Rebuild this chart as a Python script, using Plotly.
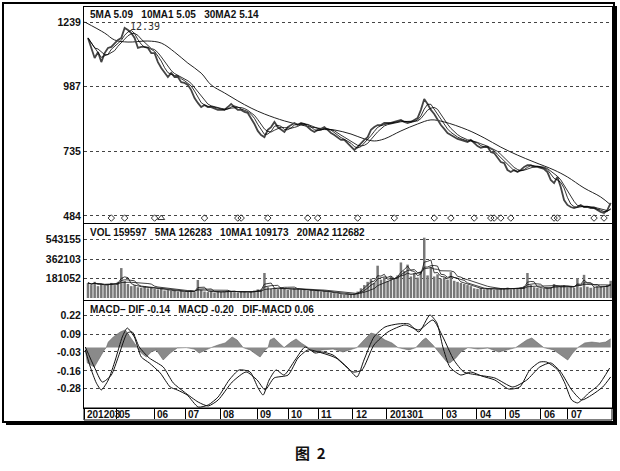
import plotly.graph_objects as go
import pandas as pd

# ---------------- data ----------------
# one bar = about two trading days, index 0 .. 157
close = [1177, 1138, 1099, 1122, 1083, 1118, 1138, 1142, 1157, 1169,
         1177, 1216, 1208, 1196, 1177, 1138, 1142, 1142, 1138, 1118,
         1118, 1083, 1060, 1041, 1025, 1041, 1025, 1025, 1005, 1002,
         994, 974, 943, 924, 908, 916, 908, 908, 904, 897,
         897, 897, 908, 920, 908, 897, 897, 889, 885, 865,
         842, 815, 799, 791, 819, 830, 850, 830, 819, 811,
         830, 838, 846, 838, 846, 842, 830, 819, 811, 819,
         823, 830, 819, 807, 799, 788, 780, 780, 768, 753,
         741, 753, 768, 780, 791, 819, 830, 838, 838, 846,
         846, 846, 850, 854, 858, 850, 846, 850, 858, 865,
         897, 939, 920, 897, 881, 858, 838, 823, 807, 799,
         791, 784, 780, 776, 772, 780, 768, 756, 749, 753,
         753, 733, 729, 710, 694, 690, 663, 655, 663, 655,
         663, 675, 682, 682, 675, 675, 671, 667, 655, 624,
         612, 636, 597, 546, 527, 519, 515, 519, 527, 519,
         519, 515, 515, 507, 500, 496, 507, 535]

ma30_idx = [-1, 5, 8, 12, 18, 22, 26, 30, 34, 37, 41, 45, 49, 53, 59, 64, 69, 74,
            79, 83, 86, 89, 94, 99, 103, 107, 114, 119, 124, 129, 134, 140, 144,
            149, 154, 157]
ma30 = [1239, 1196, 1169, 1161, 1165, 1157, 1122, 1079, 1040, 994, 963, 932, 904,
        881, 854, 838, 826, 819, 803, 784, 776, 784, 815, 842, 858, 850, 819, 788,
        752, 721, 694, 663, 636, 593, 558, 527]

volume = [140000, 120000, 150000, 110000, 130000, 115000, 125000, 140000, 120000, 150000,
          278000, 160000, 130000, 110000, 120000, 100000, 95000, 110000, 90000, 100000,
          85000, 80000, 90000, 70000, 75000, 65000, 70000, 60000, 65000, 55000,
          60000, 70000, 55000, 167000, 75000, 60000, 55000, 65000, 50000, 60000,
          55000, 60000, 70000, 65000, 55000, 50000, 60000, 55000, 50000, 60000,
          70000, 80000, 75000, 232000, 100000, 85000, 90000, 80000, 95000, 85000,
          75000, 80000, 90000, 85000, 75000, 80000, 70000, 75000, 65000, 70000,
          60000, 65000, 55000, 50000, 45000, 40000, 35000, 30000, 30000, 35000,
          40000, 60000, 90000, 120000, 150000, 180000, 140000, 300000, 170000, 190000,
          160000, 200000, 180000, 210000, 330000, 250000, 310000, 200000, 230000, 190000,
          250000, 560000, 210000, 290000, 200000, 220000, 180000, 190000, 170000, 240000,
          160000, 150000, 140000, 130000, 120000, 110000, 90000, 85000, 95000, 80000,
          90000, 85000, 75000, 80000, 90000, 85000, 95000, 80000, 85000, 90000,
          100000, 110000, 232000, 120000, 100000, 95000, 90000, 85000, 95000, 100000,
          130000, 110000, 105000, 120000, 100000, 110000, 95000, 186000, 100000, 215000,
          105000, 95000, 100000, 110000, 105000, 100000, 120000, 160000]

dif_idx = [-0.8, 0.7, 2.5, 4, 6.1, 8.2, 10.3, 11.8, 13.9, 16, 18.4, 21.7, 24.7, 26.8,
           29.8, 33.1, 36.1, 39.1, 42.4, 45.4, 48.7, 51.1, 52.6, 54.4, 56.5, 58.9,
           62.2, 65.2, 68.2, 70.3, 73.6, 77.8, 80.8, 82.9, 85.9, 89.2, 93.1, 96.4,
           99.4, 102.7, 104.8, 106.6, 108.7, 112, 115, 118.3, 122.2, 126.4, 129.7,
           132.7, 135.7, 137.8, 141.1, 143.2, 145.3, 147.1, 150.4, 153.4, 156.7]
dif = [-0.016, -0.133, -0.242, -0.290, -0.222, -0.085, 0.073, 0.134, 0.073, -0.064,
       -0.105, -0.174, -0.270, -0.290, -0.325, -0.407, -0.393, -0.338, -0.222, -0.153,
       -0.167, -0.277, -0.325, -0.222, -0.153, -0.188, -0.085, 0.004, -0.037, -0.030,
       -0.051, -0.133, -0.201, -0.085, 0.073, 0.141, 0.162, 0.162, 0.107, 0.223,
       0.169, 0.004, -0.133, -0.188, -0.167, -0.195, -0.222, -0.284, -0.270, -0.153,
       -0.099, -0.099, -0.153, -0.242, -0.359, -0.379, -0.311, -0.256, -0.140]

dea_idx = [-0.8, 1.9, 4.3, 7, 9.1, 11.8, 13.3, 15.4, 18.4, 22.6, 25.6, 28.9, 33.1,
           36.1, 39.1, 43.3, 47.5, 50.8, 53.2, 55.9, 60.1, 63.1, 66.1, 70.3, 74.5,
           79.6, 82.3, 85.9, 90.1, 95.2, 99.4, 103.6, 106.6, 109.9, 112.9, 117.1,
           122.2, 127.6, 131.8, 135.7, 139, 142, 145.3, 148.3, 151.3, 154.6, 157]
dea = [0.004, -0.133, -0.236, -0.188, -0.064, 0.100, 0.107, 0.004, -0.071, -0.133,
       -0.242, -0.304, -0.373, -0.400, -0.359, -0.236, -0.167, -0.222, -0.290, -0.208,
       -0.188, -0.071, -0.016, -0.037, -0.071, -0.167, -0.153, 0.018, 0.107, 0.155,
       0.121, 0.189, 0.073, -0.085, -0.167, -0.188, -0.208, -0.270, -0.222, -0.133,
       -0.105, -0.167, -0.290, -0.359, -0.325, -0.270, -0.201]

hist_idx = [-0.8, -0.2, 1.9, 3.4, 4.9, 5.5, 6.1, 7.6, 9.7, 11.2, 12.7, 14.2, 14.8,
            16, 17.5, 19, 20.5, 22.6, 24.7, 26.8, 29.5, 31.9, 33.4, 35.2, 37, 39.1,
            41.2, 43.3, 44.8, 46.6, 48.7, 50.8, 51.7, 53.2, 54.1, 54.7, 55.9, 57.4,
            58.9, 61, 62.5, 64, 66.1, 68.2, 70.3, 73.6, 76.6, 78.7, 80.8, 82.9, 85,
            87.1, 89.2, 91.3, 93.1, 96.4, 98.5, 100.6, 101.5, 103.6, 105.7, 107.8,
            108.7, 110.5, 112, 114.1, 117.1, 120.1, 123.4, 126.1, 128.5, 131.8, 133.3,
            134.8, 136.9, 139.9, 142.6, 144.1, 145.6, 147.1, 149.2, 151.3, 153.7,
            155.5, 157]
hist = [-0.016, -0.105, -0.133, -0.071, -0.016, 0, 0.038, 0.073, 0.107, 0.121, 0.073,
        0.018, 0, -0.037, -0.064, -0.030, -0.016, -0.085, -0.037, -0.003, 0, -0.010,
        -0.037, -0.016, 0, 0.018, 0.032, 0.073, 0.052, 0, -0.016, -0.051, -0.064,
        -0.016, 0, 0.052, 0.066, 0.032, 0, 0.038, 0.059, 0.032, 0, -0.030, -0.016,
        -0.010, -0.030, -0.016, 0, 0.052, 0.100, 0.086, 0.052, 0.032, 0, -0.016, 0,
        0.052, 0.066, 0.018, -0.037, -0.099, -0.105, -0.071, -0.030, 0, -0.010,
        -0.003, -0.030, -0.016, 0, 0.052, 0.066, 0.038, 0, -0.016, -0.064, -0.085,
        -0.037, 0, 0.032, 0.038, 0.032, 0.038, 0.060]

signal_idx = [7, 11, 20, 35, 45, 46, 54, 66, 69, 81, 92, 104, 109, 116, 121, 122,
              124, 127, 140, 141, 152, 155]
signal_tri_idx = [22]

date_pos = [-1.1, 8.5, 19.9, 29.2, 39.7, 50.8, 60.1, 69.1, 79.6, 89.8, 106.6,
            116.8, 125.5, 136, 144.1]
date_text = ["201203", "05", "06", "07", "08", "09", "10", "11", "12", "201301",
             "03", "04", "05", "06", "07"]

price_ticks = [484, 735, 987, 1239]
vol_ticks = [181052, 362103, 543155]
macd_ticks = [-0.28, -0.16, -0.03, 0.09, 0.22]
macd_tick_text = ["-0.28", "-0.16", "-0.03", "0.09", "0.22"]

# ---------------- derived ----------------
idx = list(range(len(close)))
s = pd.Series(close, dtype=float)
ma5 = s.rolling(3, min_periods=1).mean()
ma10 = s.rolling(5, min_periods=1).mean()
v = pd.Series(volume, dtype=float)
vma5 = v.rolling(3, min_periods=1).mean()
vma10 = v.rolling(5, min_periods=1).mean()
vma20 = v.rolling(10, min_periods=1).mean()

W, H = 620, 471
def px(x):
    return x / W
def py(y):
    return 1 - y / H

fig = go.Figure()
# price panel
fig.add_trace(go.Scatter(x=ma30_idx, y=ma30, mode="lines", line=dict(color="#222", width=1, shape="spline"), xaxis="x", yaxis="y"))
fig.add_trace(go.Scatter(x=idx, y=close, mode="lines", line=dict(color="#444", width=1.8), xaxis="x", yaxis="y"))
fig.add_trace(go.Scatter(x=idx, y=ma5, mode="lines", line=dict(color="#000", width=0.8), xaxis="x", yaxis="y"))
fig.add_trace(go.Scatter(x=idx, y=ma10, mode="lines", line=dict(color="#000", width=0.8), xaxis="x", yaxis="y"))
sig_level = 476
fig.add_trace(go.Scatter(x=signal_idx, y=[sig_level] * len(signal_idx), mode="markers",
                         marker=dict(symbol="diamond-open", size=5, color="#333", line=dict(width=1)),
                         xaxis="x", yaxis="y"))
fig.add_trace(go.Scatter(x=signal_tri_idx, y=[sig_level] * len(signal_tri_idx), mode="markers",
                         marker=dict(symbol="triangle-up-open", size=6, color="#333", line=dict(width=1)),
                         xaxis="x", yaxis="y"))
# volume panel
fig.add_trace(go.Bar(x=idx, y=volume, marker=dict(color="#777", line=dict(width=0)), xaxis="x2", yaxis="y2"))
for ser in (vma5, vma10, vma20):
    fig.add_trace(go.Scatter(x=idx, y=ser, mode="lines", line=dict(color="#111", width=0.8), xaxis="x2", yaxis="y2"))
# macd panel
fig.add_trace(go.Scatter(x=hist_idx, y=hist, mode="lines", fill="tozeroy", fillcolor="#8a8a8a",
                         line=dict(color="#666", width=0.6), xaxis="x3", yaxis="y3"))
fig.add_trace(go.Scatter(x=dif_idx, y=dif, mode="lines", line=dict(color="#111", width=1, shape="spline", smoothing=0.6), xaxis="x3", yaxis="y3"))
fig.add_trace(go.Scatter(x=dea_idx, y=dea, mode="lines", line=dict(color="#111", width=1, shape="spline", smoothing=0.6), xaxis="x3", yaxis="y3"))

xdom = [px(84), px(612)]
xr = [-1.2, 157.4]
tickfont = dict(family="Liberation Sans, Arial", size=10.5, color="#111", weight="bold")
common_x = dict(domain=xdom, range=xr, showgrid=False, zeroline=False, showline=True,
                mirror=True, linecolor="#000", linewidth=1, fixedrange=True)
common_y = dict(showgrid=True, griddash="dot", gridcolor="#444", gridwidth=1, zeroline=False,
                showline=True, mirror=True, linecolor="#000", linewidth=1, ticks="",
                tickfont=tickfont, fixedrange=True)

fig.update_layout(
    width=W, height=H, margin=dict(l=0, r=0, t=0, b=0),
    paper_bgcolor="white", plot_bgcolor="white", showlegend=False, bargap=0.25,
    xaxis=dict(**common_x, anchor="y", showticklabels=False, ticks=""),
    xaxis2=dict(**common_x, anchor="y2", showticklabels=False, ticks=""),
    xaxis3=dict(**common_x, anchor="y3", showticklabels=False, ticks="outside",
                tickvals=date_pos, ticklen=10, tickcolor="#000", tickwidth=1),
    yaxis=dict(**common_y, domain=[py(223), py(7)], range=[456.7, 1297.4], anchor="x",
               tickvals=price_ticks, ticktext=[str(t) for t in price_ticks]),
    yaxis2=dict(**common_y, domain=[py(300), py(224)], range=[-18570, 687090], anchor="x2",
                tickvals=vol_ticks, ticktext=[str(t) for t in vol_ticks]),
    yaxis3=dict(**common_y, domain=[py(408), py(301)], range=[-0.4137, 0.3192], anchor="x3",
                tickvals=macd_ticks, ticktext=macd_tick_text),
)

lab_font = dict(family="Liberation Sans Narrow, Liberation Sans, Arial", size=10, color="#111", weight="bold")
ann = [
    dict(text="5MA 5.09   10MA1 5.05   30MA2 5.14", x=px(88), y=py(15)),
    dict(text="VOL 159597   5MA 126283   10MA1 109173   20MA2 112682", x=px(88), y=py(232)),
    dict(text="MACD\u2013 DIF -0.14   MACD -0.20   DIF-MACD 0.06", x=px(88), y=py(309)),
]
for a in ann:
    fig.add_annotation(xref="paper", yref="paper", xanchor="left", yanchor="middle",
                       showarrow=False, font=lab_font, **a)
fig.add_annotation(xref="x", yref="y", x=12, y=1220, text="12.39", xanchor="left",
                   yanchor="middle", showarrow=False,
                   font=dict(family="DejaVu Sans Mono, monospace", size=10, color="#333"))
for pos, txt in zip(date_pos, date_text):
    fig.add_annotation(xref="x3", yref="paper", x=pos, y=py(414), text=txt, xanchor="left",
                       yanchor="middle", xshift=1, showarrow=False, font=lab_font)
fig.add_annotation(xref="paper", yref="paper", x=0.5, y=py(452), text="图  2", showarrow=False,
                   yanchor="middle",
                   font=dict(family="Noto Sans CJK SC", size=15, color="#111", weight="bold"))

# frame and date strip box
fig.add_shape(type="rect", xref="paper", yref="paper", x0=px(84), x1=px(612), y0=py(420), y1=py(408),
              line=dict(color="#000", width=1))
fig.add_shape(type="rect", xref="paper", yref="paper", x0=px(3), x1=px(614), y0=py(422), y1=py(3),
              line=dict(color="#000", width=2))
fig.add_shape(type="line", xref="paper", yref="paper", x0=px(616), x1=px(616), y0=py(424), y1=py(6),
              line=dict(color="#000", width=2))
fig.add_shape(type="line", xref="paper", yref="paper", x0=px(6), x1=px(617), y0=py(424), y1=py(424),
              line=dict(color="#000", width=2))

fig.write_html("out.html", config={"displayModeBar": False},
               post_script="document.body.style.margin='0';document.body.style.overflow='hidden';")
